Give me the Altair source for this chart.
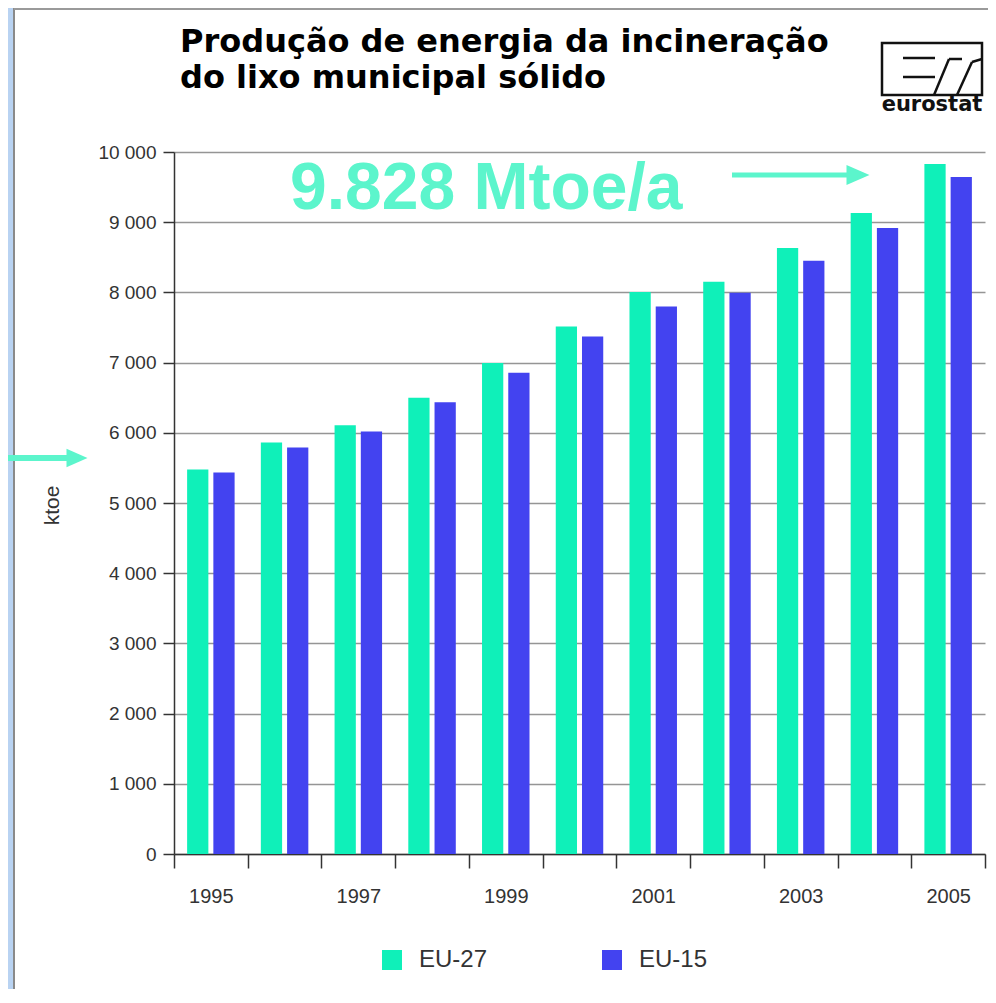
import altair as alt
import pandas as pd

# ---------------- data ----------------
years = ["1995", "1996", "1997", "1998", "1999", "2000",
         "2001", "2002", "2003", "2004", "2005"]
eu27 = [5478, 5863, 6106, 6500, 6996, 7513, 8005, 8150, 8634, 9132, 9828]
eu15 = [5435, 5792, 6020, 6434, 6854, 7372, 7799, 7994, 8450, 8919, 9644]
series = ["EU-27", "EU-15"]
colors = ["#0FF0B9", "#4343F0"]
y_ticks = [0, 1000, 2000, 3000, 4000, 5000, 6000, 7000, 8000, 9000, 10000]
title_lines = ["Produção de energia da incineração", "do lixo municipal sólido"]
annotation = "9.828 Mtoe/a"
y_title = "ktoe"
logo_text = "eurostat"

rows = []
for i, yr in enumerate(years):
    rows.append({"year": yr, "series": series[0], "value": eu27[i]})
    rows.append({"year": yr, "series": series[1], "value": eu15[i]})
df = pd.DataFrame(rows)
one = pd.DataFrame({"k": [0]})

W, H = 811, 702
FONT = "Liberation Sans"
AQUA = "#5CF5CC"

bars = alt.Chart(df).mark_bar().encode(
    x=alt.X(
        "year:O", sort=years,
        scale=alt.Scale(paddingInner=0, paddingOuter=0),
        axis=alt.Axis(
            title=None, labelAngle=0, tickBand="extent", tickSize=14,
            labelPadding=18, labelFontSize=20, labelColor="#333333",
            labelExpr="(toNumber(datum.value) % 2 == 1) ? datum.label : ''",
            domainColor="#333333", domainWidth=1.5,
            tickColor="#333333", tickWidth=1.5,
        ),
    ),
    xOffset=alt.XOffset("series:N", sort=series,
                        scale=alt.Scale(paddingInner=0.19, paddingOuter=0.5)),
    y=alt.Y(
        "value:Q",
        scale=alt.Scale(domain=[0, 10000], nice=False),
        axis=alt.Axis(
            values=y_ticks,
            labelExpr="replace(format(datum.value, ','), ',', ' ')",
            title=y_title, titleX=-122, titleY=353, titleAngle=270,
            titleAlign="center", titleBaseline="middle",
            titleFontSize=21, titleFontWeight="normal", titleColor="#333333",
            labelFontSize=19, labelColor="#333333", labelPadding=7,
            tickSize=11, tickColor="#333333", tickWidth=1.5,
            domainColor="#333333", domainWidth=1.5,
            grid=True, gridColor="#959595", gridWidth=1.6,
        ),
    ),
    color=alt.Color(
        "series:N", sort=series,
        scale=alt.Scale(domain=series, range=colors),
        legend=alt.Legend(
            title=None, orient="none", legendX=206, legendY=796,
            direction="horizontal", symbolType="square", symbolSize=400,
            symbolStrokeWidth=0, labelFontSize=24, labelColor="#333333",
            labelOffset=15, columnPadding=112,
        ),
    ),
)


def rule(x1, y1, x2, y2, color, width):
    return alt.Chart(one).mark_rule(color=color, strokeWidth=width).encode(
        x=alt.value(x1), y=alt.value(y1), x2=alt.value(x2), y2=alt.value(y2)
    )


def text(s, x, y, size, color, weight="normal", font=FONT, align="left"):
    return alt.Chart(one).mark_text(
        text=s, align=align, baseline="alphabetic", font=font,
        fontSize=size, fontWeight=weight, color=color,
    ).encode(x=alt.value(x), y=alt.value(y))


def head(x, y, size, color):
    return alt.Chart(one).mark_point(
        shape="M-1,-0.87L1,0L-1,0.87Z", filled=True, size=size,
        color=color, opacity=1, strokeWidth=0,
    ).encode(x=alt.value(x), y=alt.value(y))


decor = [
    # page frame
    alt.Chart(one).mark_rect(color="#B9D3F2").encode(
        x=alt.value(-166), x2=alt.value(-161), y=alt.value(-144), y2=alt.value(H + 135)),
    rule(-160, -144, -160, H + 135, "#8A8A8A", 2),
    rule(-160, -143, W + 3, -143, "#9A9A9A", 2),
    # title
    text(title_lines[0], 6, -100, 32, "#000000", "bold", "DejaVu Sans"),
    text(title_lines[1], 6, -64, 32, "#000000", "bold", "DejaVu Sans"),
    # annotation + arrows
    text(annotation, 116, 57, 66, AQUA, "bold"),
    rule(558, 23, 676, 23, AQUA, 5),
    head(684, 23, 529, AQUA),
    rule(-166, 306, -104, 306, AQUA, 6),
    head(-97, 306, 441, AQUA),
    # eurostat logo
    alt.Chart(one).mark_rect(fillOpacity=0, stroke="#111111", strokeWidth=2.5).encode(
        x=alt.value(708), x2=alt.value(808), y=alt.value(-109), y2=alt.value(-57)),
    rule(729, -94, 761, -94, "#111111", 2.5),
    rule(729, -75, 761, -75, "#111111", 2.5),
    rule(760, -57, 775, -93, "#111111", 2.5),
    rule(775, -93, 788, -93, "#111111", 2.5),
    rule(783, -57, 798, -90, "#111111", 2.5),
    rule(798, -90, 808, -93, "#111111", 2.5),
    text(logo_text, 758, -41, 21, "#111111", "bold", "DejaVu Sans", "center"),
]

chart = alt.layer(bars, *decor).properties(
    width=W, height=H,
    autosize=alt.AutoSizeParams(type="none"),
    padding={"left": 166, "top": 144, "right": 3, "bottom": 135},
    background="white",
).configure_view(strokeWidth=0).configure_axis(
    labelFont=FONT, titleFont=FONT
).configure_legend(labelFont=FONT)

chart.save("out.html", embed_options={"renderer": "svg", "actions": False})
